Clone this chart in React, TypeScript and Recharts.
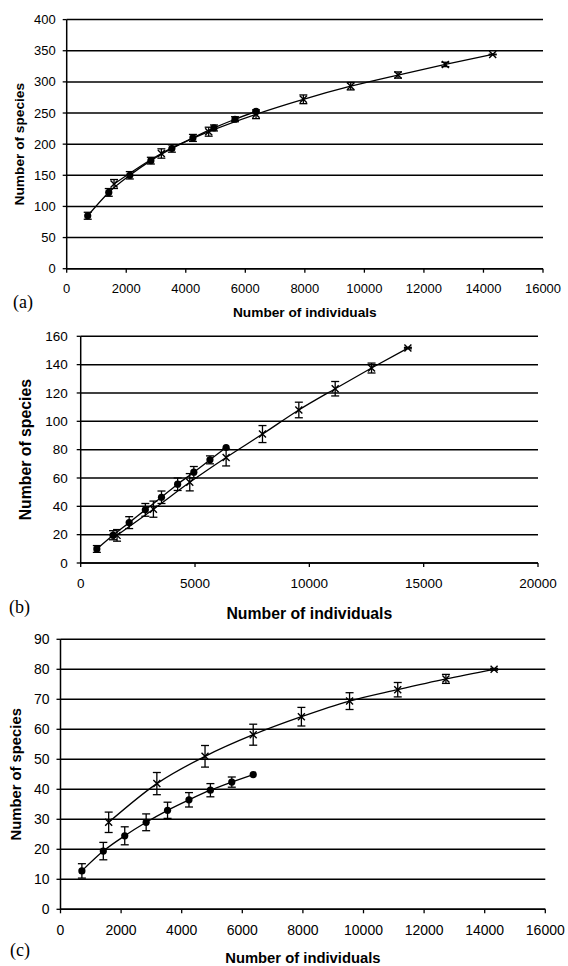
import React from "react";
import { LineChart, Line, XAxis, YAxis, CartesianGrid, ErrorBar } from "recharts";

// sample sizes (number of individuals) shared by the three panels
const dotIndividuals = [706, 1413, 2120, 2827, 3533, 4240, 4947, 5653, 6360];
const crossIndividuals = [1590, 3180, 4770, 6360, 7950, 9540, 11130, 12720, 14310];

// panel (a)
const aDotSpecies = [85, 122.5, 150, 173.5, 193, 210, 226, 240, 252.5];
const aDotErr = [5.6, 6.2, 5.9, 5.4, 5.9, 5.6, 4.8, 4, 0];
const aCrossSpecies = [136, 185, 220, 248, 272, 293, 311, 328, 344];
const aCrossErr = [7.2, 7.5, 7.2, 7, 7, 5.9, 5, 3.5, 0.5];
const aXTicks = [0, 2000, 4000, 6000, 8000, 10000, 12000, 14000, 16000];
const aYTicks = [0, 50, 100, 150, 200, 250, 300, 350, 400];

// panel (b)
const bDotSpecies = [9.9, 19.6, 28.5, 37.5, 46.4, 55.6, 64.1, 72.8, 81.5];
const bDotErr = [2.4, 3.2, 4.2, 4.5, 4.4, 4.4, 4, 2.8, 0];
const bCrossSpecies = [19.5, 38, 57, 74.5, 91, 108, 123, 137.6, 151.7];
const bCrossErr = [4.1, 5.7, 6.1, 6, 6, 5.5, 5.1, 3.5, 0.5];
const bXTicks = [0, 5000, 10000, 15000, 20000];
const bYTicks = [0, 20, 40, 60, 80, 100, 120, 140, 160];

// panel (c)
const cDotSpecies = [12.8, 19.4, 24.5, 29, 33, 36.5, 39.7, 42.4, 44.9];
const cDotErr = [2.4, 2.9, 3, 2.8, 2.7, 2.4, 2.2, 1.7, 0];
const cCrossSpecies = [29, 41.9, 51, 58.2, 64.2, 69.4, 73.2, 76.8, 80];
const cCrossErr = [3.4, 3.7, 3.6, 3.5, 3.1, 2.8, 2.4, 1.5, 0.3];
const cXTicks = [0, 2000, 4000, 6000, 8000, 10000, 12000, 14000, 16000];
const cYTicks = [0, 10, 20, 30, 40, 50, 60, 70, 80, 90];

const FONT = "'Liberation Sans', Arial, sans-serif";

const zip = (xs: number[], ys: number[], es: number[]) =>
  xs.map((x, i) => ({ x, y: ys[i], err: es[i] }));

const CircleDot = (props: any) => {
  const { cx, cy, index } = props;
  if (cx == null || cy == null) return null;
  return <circle key={`d${index}`} cx={cx} cy={cy} r={3.6} fill="#000" />;
};

const CrossDot = (props: any) => {
  const { cx, cy, index } = props;
  if (cx == null || cy == null) return null;
  const s = 3.5;
  return (
    <path
      key={`x${index}`}
      d={`M${cx - s},${cy - s}L${cx + s},${cy + s}M${cx - s},${cy + s}L${cx + s},${cy - s}`}
      stroke="#000"
      strokeWidth={1.4}
      fill="none"
    />
  );
};

type PanelProps = {
  top: number;
  height: number;
  margin: { top: number; right: number; bottom: number; left: number };
  yWidth: number;
  xHeight: number;
  xMax: number;
  yMax: number;
  xTicks: number[];
  yTicks: number[];
  dots: { x: number; y: number; err: number }[];
  crosses: { x: number; y: number; err: number }[];
  tickFont: number;
  titleFont: number;
  xTickGap: number;
  yTickGap: number;
  yTitleX: number;
  tag: string;
  tagLeft: number;
  tagTop: number;
};

function Panel(p: PanelProps) {
  return (
    <div style={{ position: "absolute", left: 0, top: p.top }}>
      <LineChart width={568} height={p.height} margin={p.margin}>
        <CartesianGrid vertical={false} stroke="#000" strokeWidth={1.5} />
        <XAxis
          type="number"
          dataKey="x"
          domain={[0, p.xMax]}
          ticks={p.xTicks}
          height={p.xHeight}
          tickSize={4}
          tickMargin={p.xTickGap}
          tick={{ fill: "#000", fontSize: p.tickFont, fontFamily: FONT }}
          tickLine={{ stroke: "#000", strokeWidth: 1.3 }}
          axisLine={{ stroke: "#000", strokeWidth: 1.5 }}
          label={{
            value: "Number of individuals",
            position: "insideBottom",
            offset: 0,
            fill: "#000",
            fontSize: p.titleFont,
            fontWeight: "bold",
            fontFamily: FONT,
          }}
        />
        <YAxis
          type="number"
          domain={[0, p.yMax]}
          ticks={p.yTicks}
          width={p.yWidth}
          tickSize={4}
          tickMargin={p.yTickGap}
          tick={{ fill: "#000", fontSize: p.tickFont, fontFamily: FONT }}
          tickLine={{ stroke: "#000", strokeWidth: 1.3 }}
          axisLine={{ stroke: "#000", strokeWidth: 1.5 }}
          label={{
            value: "Number of species",
            angle: -90,
            position: "insideLeft",
            offset: p.yTitleX,
            fill: "#000",
            fontSize: p.titleFont,
            fontWeight: "bold",
            fontFamily: FONT,
            style: { textAnchor: "middle" },
          }}
        />
        <Line
          data={p.dots}
          dataKey="y"
          type="monotone"
          stroke="#000"
          strokeWidth={1.3}
          dot={CircleDot}
          activeDot={false}
          isAnimationActive={false}
        >
          <ErrorBar dataKey="err" direction="y" width={4} stroke="#000" strokeWidth={1.3} />
        </Line>
        <Line
          data={p.crosses}
          dataKey="y"
          type="monotone"
          stroke="#000"
          strokeWidth={1.3}
          dot={CrossDot}
          activeDot={false}
          isAnimationActive={false}
        >
          <ErrorBar dataKey="err" direction="y" width={4} stroke="#000" strokeWidth={1.3} />
        </Line>
      </LineChart>
      <div
        style={{
          position: "absolute",
          left: p.tagLeft,
          top: p.tagTop,
          fontFamily: "'Liberation Serif', 'Times New Roman', serif",
          fontSize: 18,
          lineHeight: "18px",
          color: "#000",
        }}
      >
        {p.tag}
      </div>
    </div>
  );
}

export default function App() {
  return (
    <div style={{ position: "absolute", left: 0, top: 0, width: 568, height: 966, background: "#fff" }}>
      <Panel
        top={0}
        height={330}
        margin={{ top: 19.6, right: 25, bottom: 13, left: 0 }}
        yWidth={66.7}
        xHeight={48.3}
        xMax={16000}
        yMax={400}
        xTicks={aXTicks}
        yTicks={aYTicks}
        dots={zip(dotIndividuals, aDotSpecies, aDotErr)}
        crosses={zip(crossIndividuals, aCrossSpecies, aCrossErr)}
        tickFont={13}
        titleFont={13.7}
        xTickGap={11}
        yTickGap={7}
        yTitleX={19}
        tag="(a)"
        tagLeft={13}
        tagTop={293}
      />
      <Panel
        top={320}
        height={304}
        margin={{ top: 16.3, right: 30, bottom: 5.4, left: 0 }}
        yWidth={80.7}
        xHeight={55.6}
        xMax={20000}
        yMax={160}
        xTicks={bXTicks}
        yTicks={bYTicks}
        dots={zip(dotIndividuals, bDotSpecies, bDotErr)}
        crosses={zip(crossIndividuals, bCrossSpecies, bCrossErr)}
        tickFont={13.5}
        titleFont={15.8}
        xTickGap={11}
        yTickGap={9}
        yTitleX={25}
        tag="(b)"
        tagLeft={9}
        tagTop={278}
      />
      <Panel
        top={630}
        height={336}
        margin={{ top: 9.3, right: 22.7, bottom: 2.8, left: 0 }}
        yWidth={60.5}
        xHeight={53.9}
        xMax={16000}
        yMax={90}
        xTicks={cXTicks}
        yTicks={cYTicks}
        dots={zip(dotIndividuals, cDotSpecies, cDotErr)}
        crosses={zip(crossIndividuals, cCrossSpecies, cCrossErr)}
        tickFont={14}
        titleFont={14.8}
        xTickGap={12}
        yTickGap={7}
        yTitleX={16}
        tag="(c)"
        tagLeft={10}
        tagTop={311}
      />
    </div>
  );
}
